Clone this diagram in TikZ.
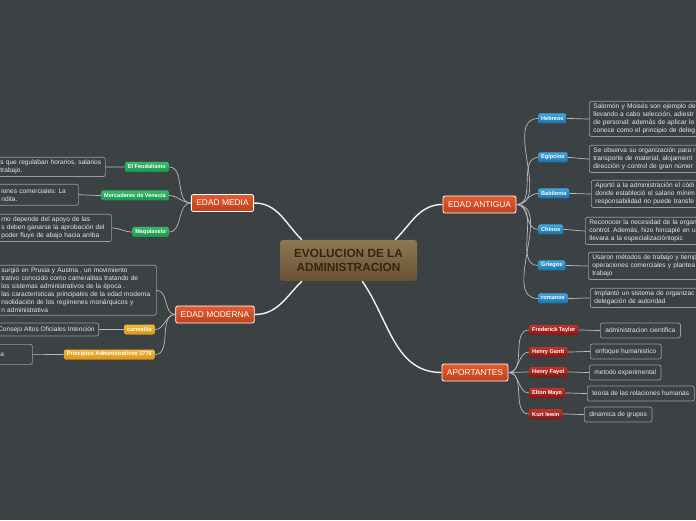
\documentclass[tikz,border=0pt]{standalone}
\usepackage{fontspec}
\setmainfont{Liberation Sans}
\frenchspacing
\definecolor{MapBg}{HTML}{3C4143}
\definecolor{MapLine}{HTML}{B9BCBD}
\definecolor{MainLine}{HTML}{F2F2F2}
\definecolor{MapBox}{HTML}{9A9D9E}
\definecolor{NoteText}{HTML}{E6E6E6}
\definecolor{RootTop}{HTML}{8E7753}
\definecolor{RootBottom}{HTML}{685234}
\definecolor{RootText}{HTML}{3A2410}
\definecolor{BranchTop}{HTML}{E45B30}
\definecolor{BranchBottom}{HTML}{BF3F1C}
\definecolor{GreenTop}{HTML}{36BA6B}
\definecolor{GreenBottom}{HTML}{1C964B}
\definecolor{GoldTop}{HTML}{F6B83E}
\definecolor{GoldBottom}{HTML}{DC9516}
\definecolor{BlueTop}{HTML}{41A7DF}
\definecolor{BlueBottom}{HTML}{1A70AA}
\definecolor{RedTop}{HTML}{C2322B}
\definecolor{RedBottom}{HTML}{861711}
\usetikzlibrary{positioning}

\begin{document}
\begin{tikzpicture}[x=1pt,y=1pt,
    rootbox/.style={rounded corners=3pt, top color=RootTop, bottom color=RootBottom,
      text=RootText, font=\bfseries\fontsize{11.8}{14}\selectfont, align=center,
      minimum width=137pt, minimum height=41pt, inner sep=0pt},
    branchbox/.style={rounded corners=2pt, draw=white, line width=0.8pt,
      top color=BranchTop, bottom color=BranchBottom, text=white,
      font=\fontsize{8.4}{10}\selectfont, minimum height=17pt,
      inner xsep=5pt, inner ysep=0pt},
    tagbox/.style={rounded corners=1.5pt, text=white,
      font=\bfseries\fontsize{5.6}{7}\selectfont, minimum height=10pt,
      inner xsep=3pt, inner ysep=0pt},
    greentag/.style={tagbox, top color=GreenTop, bottom color=GreenBottom},
    goldtag/.style={tagbox, top color=GoldTop, bottom color=GoldBottom},
    bluetag/.style={tagbox, top color=BlueTop, bottom color=BlueBottom},
    redtag/.style={tagbox, top color=RedTop, bottom color=RedBottom},
    notebox/.style={draw=MapBox, line width=0.7pt, rounded corners=2pt,
      text=NoteText, font=\fontsize{6.6}{8}\selectfont, align=left,
      inner xsep=4pt, inner ysep=2.5pt},
    link/.style={draw=MapLine, line width=0.7pt},
    mainlink/.style={draw=MainLine, line width=1.4pt}
  ]
    \fill[MapBg] (0,0) rectangle (696,520);
    \useasboundingbox (0,0) rectangle (696,520);
    \clip (0,0) rectangle (696,520);

    % centre and main branches
    \node[rootbox] (centre) at (348.5,259.5) {EVOLUCION DE LA\\ADMINISTRACION};
    \node[branchbox] (media) at (222.5,317) {EDAD MEDIA};
    \node[branchbox] (moderna) at (215,205.5) {EDAD MODERNA};
    \node[branchbox] (antigua) at (479.5,315.5) {EDAD ANTIGUA};
    \node[branchbox] (aportantes) at (475,147.5) {APORTANTES};

    \draw[mainlink] ([xshift=22pt]centre.north west) to[out=135,in=0] (media.east);
    \draw[mainlink] ([xshift=-22pt]centre.north east) to[out=45,in=180] (antigua.west);
    \draw[mainlink] ([xshift=22pt]centre.south west) to[out=-135,in=0] (moderna.east);
    \draw[mainlink] ([xshift=-55pt]centre.south east) to[out=-55,in=180] (aportantes.west);

    % edad media
    \node[greentag, anchor=east] (feudal) at (169,353) {El Feudalismo};
    \node[greentag, anchor=east] (venecia) at (169,324.5) {Mercaderes de Venecia};
    \node[greentag, anchor=east] (maquiavelo) at (169,288) {Maquiavelo};
    \node[notebox, anchor=north west, text width=101pt] (feudalnote) at (-4,363)
      {s que regulaban horarios, salarios\\trabajo.};
    \node[notebox, anchor=north west, text width=73pt, inner ysep=4pt] (venecianote) at (-3,336)
      {iones comerciales: La\\ndita.};
    \node[notebox, anchor=north west, text width=106pt] (maquiavelonote) at (-3,306)
      {rno depende del apoyo de las\\s deben ganarse la aprobación del\\poder fluye de abajo hacia arriba};
    \foreach \tag in {feudal,venecia,maquiavelo}{
      \draw[link] (media.west) to[out=180,in=0] (\tag.east);
      \draw[link] (\tag.west) to[out=180,in=0] (\tag note.east);
    }

    % edad moderna
    \node[goldtag, anchor=east] (carmelita) at (155,190.5) {carmelita};
    \node[goldtag, anchor=east] (principios) at (155,165.5) {Principios Administrativos 1776};
    \node[notebox, anchor=north west, text width=151pt] (prusianote) at (-3,255)
      {surgió en Prusia y Austria , un movimiento\\trativo conocido como cameralitas tratando de\\los sistemas administrativos de la época .\\las características principales de la edad moderna\\nsolidación de los regímenes monárquicos y\\n administrativa};
    \node[notebox, anchor=east, minimum height=13pt, inner ysep=0pt] (carmelitanote) at (99,190.5)
      {Consejo Altos Oficiales Intención};
    \node[notebox, anchor=north west, text width=28pt, minimum height=20pt] (principiosnote) at (-4,176)
      {a};
    \draw[link] (moderna.west) to[out=180,in=0] (prusianote.east);
    \foreach \tag in {carmelita,principios}{
      \draw[link] (moderna.west) to[out=180,in=0] (\tag.east);
      \draw[link] (\tag.west) to[out=180,in=0] (\tag note.east);
    }

    % edad antigua
    \node[bluetag, anchor=west] (hebreos) at (538,401.5) {Hebreos};
    \node[bluetag, anchor=west] (egipcios) at (538,362.5) {Egipcios};
    \node[bluetag, anchor=west] (babilonia) at (538,326.5) {Babilonia};
    \node[bluetag, anchor=west] (chinos) at (538,290.5) {Chinos};
    \node[bluetag, anchor=west] (griegos) at (538,254.5) {Griegos};
    \node[bluetag, anchor=west] (romanos) at (538,221.5) {romanos};
    \node[notebox, anchor=north west, text width=130pt] (hebreosnote) at (589,419)
      {Salomón y Moisés son ejemplo de\\llevando a cabo selección, adiestr\\de personal; además de aplicar lo\\conoce como el principio de deleg};
    \node[notebox, anchor=north west, text width=130pt] (egipciosnote) at (589,375)
      {Se observa su organización para r\\transporte de material, alojamient\\dirección y control de gran númer};
    \node[notebox, anchor=north west, text width=130pt] (babilonianote) at (591,340)
      {Aportó a la administración el códi\\donde estableció el salario mínim\\responsabilidad no puede transfe};
    \node[notebox, anchor=north west, text width=130pt] (chinosnote) at (585,303)
      {Reconocer la necesidad de la organ\\control. Además, hizo hincapié en u\\llevara a la especializacióntopic};
    \node[notebox, anchor=north west, text width=130pt] (griegosnote) at (588,268)
      {Usaron métodos de trabajo y tiemp\\operaciones comerciales y plantea\\trabajo};
    \node[notebox, anchor=north west, text width=130pt] (romanosnote) at (590,232)
      {Implantó un sistema de organizac\\delegación de autoridad};
    \foreach \tag in {hebreos,egipcios,babilonia,chinos,griegos,romanos}{
      \draw[link] (antigua.east) to[out=0,in=180] (\tag.west);
      \draw[link] (\tag.east) to[out=0,in=180] (\tag note.west);
    }

    % aportantes
    \node[redtag, anchor=west] (taylor) at (529,190) {Frederick Taylor};
    \node[redtag, anchor=west] (gantt) at (529,168) {Henry Gantt};
    \node[redtag, anchor=west] (fayol) at (529,148) {Henry Fayol};
    \node[redtag, anchor=west] (mayo) at (529,127) {Elton Mayo};
    \node[redtag, anchor=west] (lewin) at (529,106) {Kurt lewin};
    \node[notebox, anchor=west, minimum height=15pt, inner xsep=5pt, inner ysep=0pt] (taylornote) at (600,189.5) {administracion cientifica};
    \node[notebox, anchor=west, minimum height=15pt, inner xsep=5pt, inner ysep=0pt] (ganttnote) at (590,168.5) {enfoque humanistico};
    \node[notebox, anchor=west, minimum height=15pt, inner xsep=5pt, inner ysep=0pt] (fayolnote) at (589,147.5) {metodo experimental};
    \node[notebox, anchor=west, minimum height=15pt, inner xsep=5pt, inner ysep=0pt] (mayonote) at (587,126.5) {teoria de las relaciones humanas};
    \node[notebox, anchor=west, minimum height=15pt, inner xsep=5pt, inner ysep=0pt] (lewinnote) at (584,105.5) {dinamica de grupos};
    \foreach \tag in {taylor,gantt,fayol,mayo,lewin}{
      \draw[link] (aportantes.east) to[out=0,in=180] (\tag.west);
      \draw[link] (\tag.east) to[out=0,in=180] (\tag note.west);
    }
  \end{tikzpicture}
\end{document}
